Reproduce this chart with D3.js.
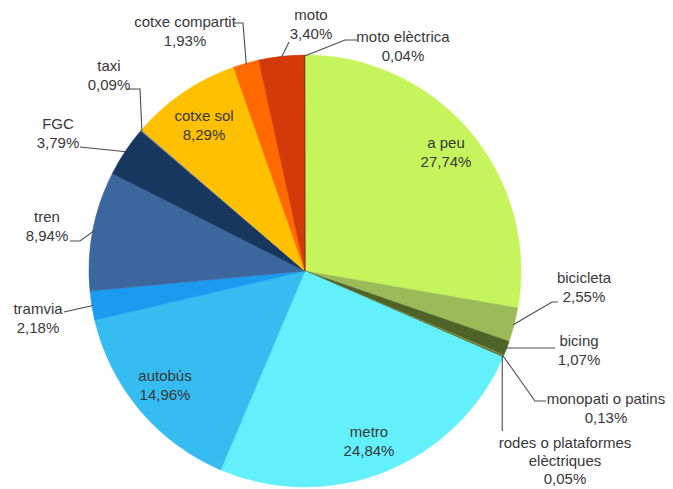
<!DOCTYPE html>
<html>
<head>
<meta charset="utf-8">
<script src="https://cdn.jsdelivr.net/npm/d3@7"></script>
<style>
  html, body { margin: 0; padding: 0; background: #fff; }
  svg text { font-family: "Liberation Sans", Arial, sans-serif; font-size: 15px; fill: #383838; }
</style>
</head>
<body>
<svg id="chart" width="673" height="489"></svg>
<script>
// ---- data ----
const categories = ["a peu", "bicicleta", "bicing", "monopati o patins", "rodes o plataformes elèctriques",
  "metro", "autobús", "tramvia", "tren", "FGC", "taxi", "cotxe sol", "cotxe compartit", "moto", "moto elèctrica"];
const values = [27.74, 2.55, 1.07, 0.13, 0.05, 24.84, 14.96, 2.18, 8.94, 3.79, 0.09, 8.29, 1.93, 3.40, 0.04];
const colors = ["#c6f45c", "#9bbb59", "#4f6228", "#7a8a3a", "#3f4f20",
  "#63f0fd", "#35bdf1", "#1b9bf0", "#3b679e", "#17375e", "#8a8a8a", "#ffc000", "#ff6a00", "#d23a0a", "#7f2a00"];
const labelLines = [["a peu"], ["bicicleta"], ["bicing"], ["monopati o patins"], ["rodes o plataformes", "elèctriques"],
  ["metro"], ["autobús"], ["tramvia"], ["tren"], ["FGC"], ["taxi"], ["cotxe sol"], ["cotxe compartit"], ["moto"], ["moto elèctrica"]];

// ---- layout (label placement) ----
const cx = 305, cy = 271, R = 216;
const labelLayout = [
  {x: 446, y: 148, lead: null},
  {x: 584, y: 283, lead: [[558, 302], [552, 302]]},
  {x: 579, y: 346, lead: [[555, 348]]},
  {x: 606, y: 404, lead: [[546, 401], [535, 401]]},
  {x: 565, y: 448, lead: "vertical", leadEnd: 431, gap: 18},
  {x: 369, y: 437, lead: null},
  {x: 165, y: 381, lead: null},
  {x: 38, y: 314, lead: [[64, 312]]},
  {x: 47, y: 222, lead: [[70, 241], [80, 241]]},
  {x: 58, y: 129, lead: [[80, 147]]},
  {x: 109, y: 71, lead: [[127, 89], [140, 89]]},
  {x: 204, y: 121, lead: null},
  {x: 185, y: 27, lead: [[233, 23], [243, 23]]},
  {x: 311, y: 20, lead: [[289, 42]]},
  {x: 403, y: 42, lead: [[357, 40], [345, 40]]}
];

const fmt = v => v.toFixed(2).replace(".", ",") + "%";

const svg = d3.select("#chart");
const g = svg.append("g").attr("transform", `translate(${cx},${cy})`);

const pie = d3.pie().sort(null).value(d => d).startAngle(0).endAngle(2 * Math.PI);
const arcs = pie(values);
const arc = d3.arc().innerRadius(0).outerRadius(R);

g.selectAll("path.slice").data(arcs).join("path")
  .attr("class", "slice")
  .attr("d", arc)
  .attr("fill", (d, i) => colors[i])
  .attr("stroke", (d, i) => colors[i])
  .attr("stroke-width", 0.5);

// leader lines
const edgePoint = (a, r) => {
  const m = (a.startAngle + a.endAngle) / 2;
  return [cx + r * Math.sin(m), cy - r * Math.cos(m)];
};
const line = d3.line();
arcs.forEach((a, i) => {
  const L = labelLayout[i];
  if (!L.lead) return;
  const p = edgePoint(a, R - 1);
  let pts;
  if (L.lead === "vertical") pts = [[p[0], L.leadEnd], p];
  else pts = [...L.lead, p];
  svg.append("path").attr("d", line(pts)).attr("fill", "none")
    .attr("stroke", "#4a4a4a").attr("stroke-width", 1.1);
});

// labels
arcs.forEach((a, i) => {
  const L = labelLayout[i];
  const lines = [...labelLines[i], fmt(values[i])];
  const gap = L.gap || 19;
  const t = svg.append("text").attr("text-anchor", "middle");
  lines.forEach((s, k) => {
    t.append("tspan").attr("x", L.x).attr("y", L.y + k * gap).text(s);
  });
});
</script>
</body>
</html>
